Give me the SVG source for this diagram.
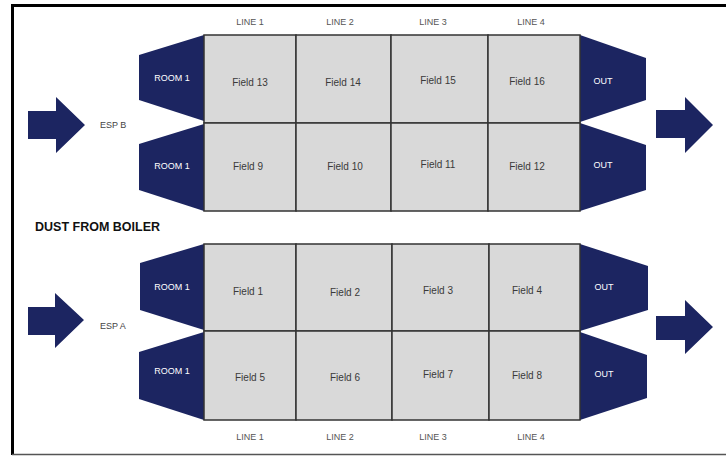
<svg xmlns="http://www.w3.org/2000/svg" width="726" height="456" viewBox="0 0 726 456">
<style>
.nv{fill:#1c2561;}
.cell{fill:#d9d9d9;stroke:#333;stroke-width:1.5;}
.ln{font-family:"Liberation Sans",Arial,sans-serif;font-size:9px;fill:#555;text-anchor:middle;}
.fd{font-family:"Liberation Sans",Arial,sans-serif;font-size:10px;fill:#3a3a3a;text-anchor:middle;}
.wt{font-family:"Liberation Sans",Arial,sans-serif;font-size:9px;fill:#fff;text-anchor:middle;}
.esp{font-family:"Liberation Sans",Arial,sans-serif;font-size:9px;fill:#444;text-anchor:start;}
.ttl{font-family:"Liberation Sans",Arial,sans-serif;font-size:12.5px;font-weight:bold;fill:#111;}
</style>
<rect width="726" height="456" fill="#fff"/>
<g id="frame">
<line x1="12.5" y1="5.5" x2="726" y2="5.5" stroke="#000" stroke-width="3"/>
<line x1="12.5" y1="4" x2="12.5" y2="455" stroke="#000" stroke-width="3"/>
<line x1="12" y1="454.5" x2="726" y2="454.5" stroke="#555" stroke-width="1.5"/>
</g>
<text class="ttl" x="35" y="231">DUST FROM BOILER</text>

<g id="espB">
<g id="b-in-arrow"><polygon class="nv" points="28,111 56,111 56,97 85,125 56,153 56,139 28,139"/></g>
<g id="b-out-arrow"><polygon class="nv" points="656,110 685,110 685,97 713,125 685,153 685,138 656,138"/></g>
<text class="esp" x="100" y="128">ESP B</text>
<g id="b-room-top"><polygon class="nv" points="204,35 139,55 139,100 204,121"/><text class="wt" x="172" y="81">ROOM 1</text></g>
<g id="b-room-bot"><polygon class="nv" points="204,124 139,144 139,190 204,211"/><text class="wt" x="172" y="169">ROOM 1</text></g>
<g id="b-out-top"><polygon class="nv" points="580,35 646,58 646,100 580,122"/><text class="wt" x="603" y="84">OUT</text></g>
<g id="b-out-bot"><polygon class="nv" points="580,123 646,145 646,190 580,211"/><text class="wt" x="603" y="168">OUT</text></g>
<g id="b-grid">
<rect class="cell" x="204" y="35" width="92" height="88"/>
<rect class="cell" x="296" y="35" width="95" height="88"/>
<rect class="cell" x="391" y="35" width="97" height="88"/>
<rect class="cell" x="488" y="35" width="92" height="88"/>
<rect class="cell" x="204" y="123" width="92" height="88"/>
<rect class="cell" x="296" y="123" width="95" height="88"/>
<rect class="cell" x="391" y="123" width="97" height="88"/>
<rect class="cell" x="488" y="123" width="92" height="88"/>
</g>
<text class="fd" x="250" y="86">Field 13</text>
<text class="fd" x="343" y="86">Field 14</text>
<text class="fd" x="438" y="84">Field 15</text>
<text class="fd" x="527" y="85">Field 16</text>
<text class="fd" x="248" y="170">Field 9</text>
<text class="fd" x="345" y="170">Field 10</text>
<text class="fd" x="438" y="168">Field 11</text>
<text class="fd" x="527" y="170">Field 12</text>
<text class="ln" x="250" y="25">LINE 1</text>
<text class="ln" x="340" y="25">LINE 2</text>
<text class="ln" x="433" y="25">LINE 3</text>
<text class="ln" x="531" y="25">LINE 4</text>
</g>

<g id="espA">
<g id="a-in-arrow"><polygon class="nv" points="28,307 55,307 55,293 84,320 55,348 55,335 28,335"/></g>
<g id="a-out-arrow"><polygon class="nv" points="656,316 685,316 685,300 713,327 685,354 685,340 656,340"/></g>
<text class="esp" x="100" y="329">ESP A</text>
<g id="a-room-top"><polygon class="nv" points="204,244 140,263 140,310 204,330"/><text class="wt" x="172" y="290">ROOM 1</text></g>
<g id="a-room-bot"><polygon class="nv" points="204,332 139,352 139,399 204,420"/><text class="wt" x="172" y="374">ROOM 1</text></g>
<g id="a-out-top"><polygon class="nv" points="580,244 648,266 648,310 580,331"/><text class="wt" x="604" y="290">OUT</text></g>
<g id="a-out-bot"><polygon class="nv" points="580,332 647,355 647,398 580,420"/><text class="wt" x="604" y="377">OUT</text></g>
<g id="a-grid">
<rect class="cell" x="204" y="244" width="92" height="87"/>
<rect class="cell" x="296" y="244" width="96" height="87"/>
<rect class="cell" x="392" y="244" width="97" height="87"/>
<rect class="cell" x="489" y="244" width="91" height="87"/>
<rect class="cell" x="204" y="331" width="92" height="89"/>
<rect class="cell" x="296" y="331" width="96" height="89"/>
<rect class="cell" x="392" y="331" width="97" height="89"/>
<rect class="cell" x="489" y="331" width="91" height="89"/>
</g>
<text class="fd" x="248" y="295">Field 1</text>
<text class="fd" x="345" y="296">Field 2</text>
<text class="fd" x="438" y="294">Field 3</text>
<text class="fd" x="527" y="294">Field 4</text>
<text class="fd" x="250" y="381">Field 5</text>
<text class="fd" x="345" y="381">Field 6</text>
<text class="fd" x="438" y="378">Field 7</text>
<text class="fd" x="527" y="379">Field 8</text>
<text class="ln" x="250" y="440">LINE 1</text>
<text class="ln" x="340" y="440">LINE 2</text>
<text class="ln" x="433" y="440">LINE 3</text>
<text class="ln" x="531" y="440">LINE 4</text>
</g>
</svg>
